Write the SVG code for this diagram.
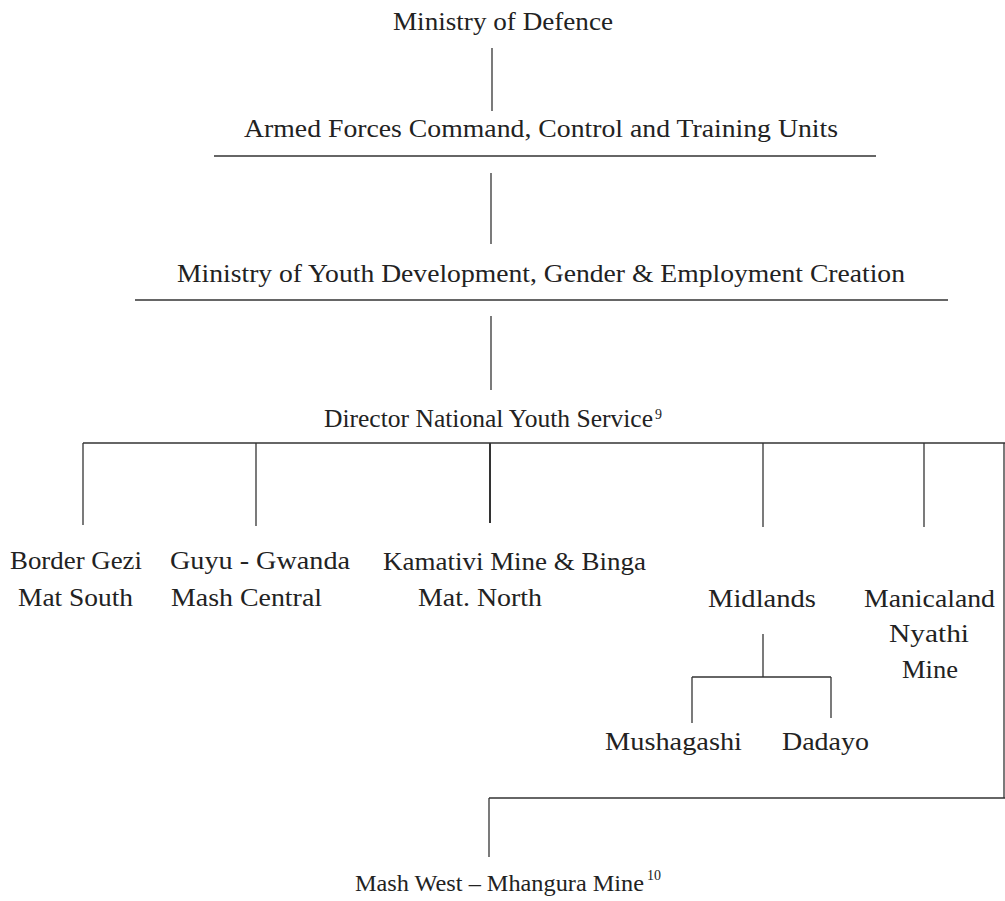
<svg xmlns="http://www.w3.org/2000/svg" width="1005" height="901" viewBox="0 0 1005 901">
<style>
text{font-family:"Liberation Serif","Times New Roman",serif;font-size:25px;fill:#222}
text.sup{font-size:14px}
line{stroke:#333;stroke-width:1.3;fill:none}
</style>
<rect width="1005" height="901" fill="#fff"/>
<g id="connectors">
<line x1="492" y1="48" x2="492" y2="111"/>
<line x1="214" y1="156" x2="876" y2="156"/>
<line x1="491" y1="173" x2="491" y2="244"/>
<line x1="135" y1="300" x2="948" y2="300"/>
<line x1="491" y1="316" x2="491" y2="390"/>
<line x1="83" y1="443" x2="1005" y2="443"/>
<line x1="83" y1="443" x2="83" y2="525"/>
<line x1="256" y1="443" x2="256" y2="526"/>
<line x1="490" y1="443" x2="490" y2="523" style="stroke-width:2"/>
<line x1="763" y1="443" x2="763" y2="527"/>
<line x1="924" y1="443" x2="924" y2="527"/>
<line x1="1004" y1="443" x2="1004" y2="798"/>
<line x1="763" y1="634" x2="763" y2="677"/>
<line x1="692" y1="677" x2="831" y2="677"/>
<line x1="692" y1="677" x2="692" y2="723"/>
<line x1="831" y1="677" x2="831" y2="718"/>
<line x1="489" y1="798" x2="1005" y2="798"/>
<line x1="489" y1="798" x2="489" y2="857"/>
</g>
<g id="n-defence"><text x="393" y="30" textLength="220" lengthAdjust="spacingAndGlyphs">Ministry of Defence</text></g>
<g id="n-armed"><text x="244" y="137" textLength="594" lengthAdjust="spacingAndGlyphs">Armed Forces Command, Control and Training Units</text></g>
<g id="n-youth"><text x="177" y="282" textLength="728" lengthAdjust="spacingAndGlyphs">Ministry of Youth Development, Gender &amp; Employment Creation</text></g>
<g id="n-director">
<text x="324" y="427" textLength="329" lengthAdjust="spacingAndGlyphs">Director National Youth Service</text>
<text class="sup" x="655" y="419">9</text>
</g>
<g id="n-border">
<text x="10" y="569" textLength="132" lengthAdjust="spacingAndGlyphs">Border Gezi</text>
<text x="18" y="606" textLength="115" lengthAdjust="spacingAndGlyphs">Mat South</text>
</g>
<g id="n-guyu">
<text x="170" y="569" textLength="180" lengthAdjust="spacingAndGlyphs">Guyu - Gwanda</text>
<text x="171" y="606" textLength="151" lengthAdjust="spacingAndGlyphs">Mash Central</text>
</g>
<g id="n-kamativi">
<text x="383" y="570" textLength="263" lengthAdjust="spacingAndGlyphs">Kamativi Mine &amp; Binga</text>
<text x="418" y="606" textLength="124" lengthAdjust="spacingAndGlyphs">Mat. North</text>
</g>
<g id="n-midlands"><text x="708" y="607" textLength="108" lengthAdjust="spacingAndGlyphs">Midlands</text></g>
<g id="n-manicaland">
<text x="864" y="607" textLength="131" lengthAdjust="spacingAndGlyphs">Manicaland</text>
<text x="889" y="642" textLength="80" lengthAdjust="spacingAndGlyphs">Nyathi</text>
<text x="902" y="678" textLength="56" lengthAdjust="spacingAndGlyphs">Mine</text>
</g>
<g id="n-mushagashi"><text x="605" y="750" textLength="137" lengthAdjust="spacingAndGlyphs">Mushagashi</text></g>
<g id="n-dadayo"><text x="782" y="750" textLength="87" lengthAdjust="spacingAndGlyphs">Dadayo</text></g>
<g id="n-mashwest">
<text x="355" y="891" style="font-size:24px" textLength="289" lengthAdjust="spacingAndGlyphs">Mash West – Mhangura Mine</text>
<text class="sup" x="647" y="880">10</text>
</g>
</svg>
